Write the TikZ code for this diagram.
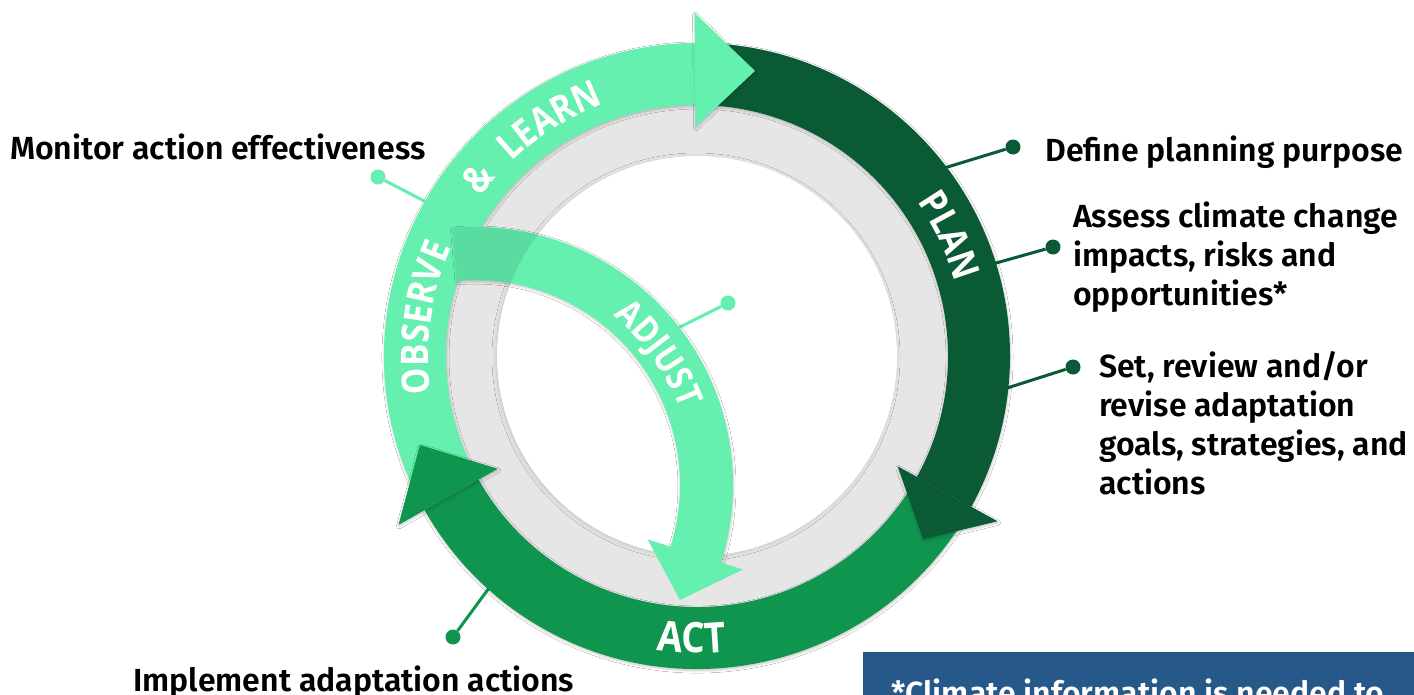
\documentclass[tikz,border=0pt]{standalone}
\usepackage{fontspec}
\IfFontExistsTF{Fira Sans SemiBold}
  {\setmainfont{Fira Sans SemiBold}\newcommand{\stepweight}{\relax}}
  {\setmainfont{Fira Sans}\newcommand{\stepweight}{\bfseries}}
\newfontfamily\arcfont{Open Sans}
\usetikzlibrary{shadows.blur}

\definecolor{leafL}{HTML}{66F0B0}
\definecolor{leafD}{HTML}{0A5A35}
\definecolor{leafM}{HTML}{10954F}
\definecolor{leafShade}{HTML}{5ADCA0}
\definecolor{ringGray}{HTML}{E6E6E6}
\definecolor{noteBlue}{HTML}{26598A}

% horizontal squeeze of the letters set on arcs
\newcommand{\arcsqueeze}{0.88}

% ring band between radii 251 and 313, from angle #2 to #3
\newcommand{\ringband}[3]{%
  \fill[#1, softshadow] (#2:313) arc[start angle=#2, end angle=#3, radius=313]
    -- (#3:251) arc[start angle=#3, end angle=#2, radius=251] -- cycle;}
% arrow head: base at angle #2, tip at angle #3
\newcommand{\ringhead}[3]{%
  \fill[#1, softshadow] (#2:229) -- (#3:291) -- (#2:343) -- cycle;}
% word set letter by letter on an arc
% #1 name, #2 baseline radius, #3 centre angle, #4 font size,
% #5 sense (1: clockwise, tops outward; -1: anticlockwise, tops inward),
% #6 letters with their advance widths in em, as letter/width pairs
\newcommand{\arcword}[6]{%
  \xdef\arctotal{0}%
  \foreach \ch/\w in {#6} {%
    \pgfmathsetmacro{\tmp}{\arctotal+\w}\xdef\arctotal{\tmp}}%
  \xdef\arcacc{0}%
  \foreach \ch/\w [count=\k] in {#6} {%
    \pgfmathsetmacro{\ang}{#3-#5*((\arcacc+0.5*\w)-0.5*\arctotal)*#4*\arcsqueeze/(#2)*180/pi}%
    \node[anchor=base, inner sep=0pt, text=white,
      font=\arcfont\bfseries\fontsize{#4}{#4}\selectfont,
      rotate=\ang-#5*90, xscale=\arcsqueeze] (#1-\k) at (\ang:#2) {\ch};
    \pgfmathsetmacro{\tmp}{\arcacc+\w}\xdef\arcacc{\tmp}%
  }}

\begin{document}
\begin{tikzpicture}[x=1pt, y=1pt,
  softshadow/.style={blur shadow={shadow blur steps=5, shadow xshift=0.5pt,
    shadow yshift=-1.5pt, shadow blur radius=2.5pt, shadow opacity=22}},
  pindot/.style={circle, inner sep=0pt, minimum size=15pt},
  conn/.style={line width=3pt},
  txt/.style={anchor=base west, inner sep=0pt, text=black,
    font=\stepweight\fontsize{32}{39}\selectfont}]

\useasboundingbox (0,0) rectangle (1414,-694);
\fill[white] (0,0) rectangle (1414,-694);

% grey ring with white centre
\begin{scope}[shift={(697,-356)}]
  \fill[ringGray] (0,0) circle[radius=300];
  \fill[white, blur shadow={shadow blur steps=5, shadow xshift=-1pt,
    shadow yshift=-1pt, shadow blur radius=4pt, shadow opacity=15}]
    (0,0) circle[radius=200];
\end{scope}

% call-out dots and their leader lines
\node[pindot, fill=leafL] (dMon) at (378,-177) {};
\coordinate (eMon) at (428,-203);
\draw[conn, leafL] (dMon) -- (eMon);

\node[pindot, fill=leafD] (dDef) at (1013,-147) {};
\coordinate (eDef) at (941,-169);
\draw[conn, leafD] (dDef) -- (eDef);

\node[pindot, fill=leafD] (dAss) at (1053,-247) {};
\coordinate (eAss) at (989,-265);
\draw[conn, leafD] (dAss) -- (eAss);

\node[pindot, fill=leafD] (dSet) at (1073,-367) {};
\coordinate (eSet) at (1004,-389);
\draw[conn, leafD] (dSet) -- (eSet);

\node[pindot, fill=leafM] (dImp) at (453,-637) {};
\coordinate (eImp) at (489,-588);
\draw[conn, leafM] (dImp) -- (eImp);

\node[pindot, fill=leafL] (dAdj) at (728,-303) {};
\coordinate (eAdj) at (672,-331);
\draw[conn, leafL] (dAdj) -- (eAdj);

% the three cycle arrows
\begin{scope}[shift={(697,-356)}]
  \ringband{leafL}{207}{90.4}
  \ringband{leafD}{88}{-28.8}
  \ringband{leafM}{-31}{-150.5}
  \ringhead{leafL}{90.4}{78.5}
  \ringhead{leafD}{-28.8}{-39}
  \ringhead{leafM}{209.5}{197.8}

  \arcword{obs}{268.5}{172}{38}{1}{O/0.79,B/0.68,S/0.57,E/0.56,R/0.66,V/0.65,E/0.56}
  \arcword{amp}{268.5}{141}{38}{1}{\&/0.79}
  \arcword{lrn}{268.5}{122}{38}{1}{L/0.55,E/0.56,A/0.68,R/0.66,N/0.80}
  \arcword{pln}{268.5}{25.5}{38}{1}{P/0.64,L/0.55,A/0.68,N/0.80}
  \arcword{act}{297}{269}{42}{-1}{A/0.68,C/0.63,T/0.58}
\end{scope}

% the adjust arrow
\begin{scope}[shift={(475,-485)}]
  \fill[leafL, softshadow] (95:258) arc[start angle=95, end angle=-17.5, radius=258]
    -- (-17.5:205) arc[start angle=-17.5, end angle=95, radius=205] -- cycle;
  \fill[leafL] (-17.5:181) -- (-29.3:235) -- (-17.5:281) -- cycle;
\end{scope}
\begin{scope}[even odd rule]
  \clip (380,-150) rectangle (700,-330);
  \clip (0,0) rectangle (1414,-694) (697,-356) circle[radius=200];
  \begin{scope}[shift={(475,-485)}]
    \fill[leafShade] (95:258) arc[start angle=95, end angle=-17.5, radius=258]
      -- (-17.5:205) arc[start angle=-17.5, end angle=95, radius=205] -- cycle;
  \end{scope}
\end{scope}
\begin{scope}[shift={(475,-485)}]
  \arcword{adj}{218.5}{35.5}{36}{1}{A/0.68,D/0.74,J/0.34,U/0.75,S/0.57,T/0.58}
\end{scope}

% step descriptions
\node[txt] (tMon) at (10,-159) {Monitor action effectiveness};
\node[txt] (tDef) at (1045,-161) {Define planning purpose};
\node[txt] (tAss) at (1073,-227) {\begin{tabular}[t]{@{}l@{}}Assess climate change\\impacts, risks and\\opportunities*\end{tabular}};
\node[txt] (tSet) at (1099,-377) {\begin{tabular}[t]{@{}l@{}}Set, review and/or\\revise adaptation\\goals, strategies, and\\actions\end{tabular}};
\node[txt] (tImp) at (133,-691) {Implement adaptation actions};

% footnote box
\fill[noteBlue] (863,-652) rectangle (1420,-700);
\node[txt, text=white] (tNote) at (891,-704) {*Climate information is needed to};
\end{tikzpicture}
\end{document}
